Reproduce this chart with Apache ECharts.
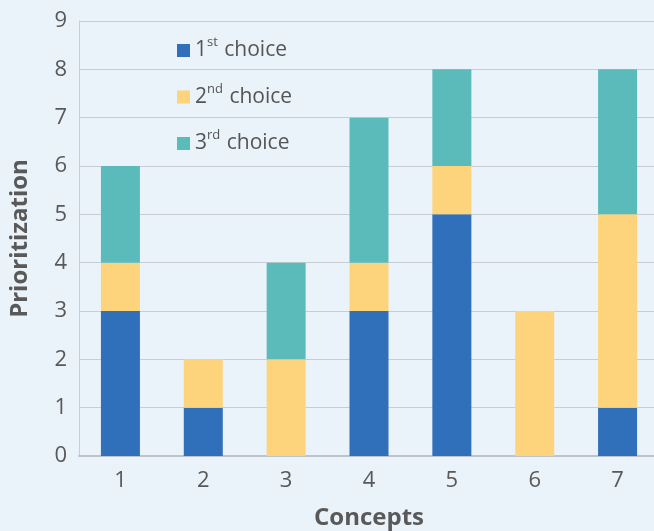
<!DOCTYPE html>
<html>
<head>
<meta charset="utf-8">
<script src="https://cdn.jsdelivr.net/npm/echarts@6/dist/echarts.min.js"></script>
<style>
  html, body { margin: 0; padding: 0; background: #eaf2fa; }
  #chart { width: 654px; height: 531px; }
</style>
</head>
<body>
<div id="chart"></div>
<script>
// Concepts on the x axis and the votes each one received per choice rank
const concepts = ['1', '2', '3', '4', '5', '6', '7'];
const firstChoice  = [3, 1, 0, 3, 5, 0, 1];
const secondChoice = [1, 1, 2, 1, 1, 3, 4];
const thirdChoice  = [2, 0, 2, 3, 2, 0, 3];
const yTicks = [0, 1, 2, 3, 4, 5, 6, 7, 8, 9];

const seriesNames = ['1st choice', '2nd choice', '3rd choice'];
const ordinal = { '1st choice': ['1', 'st'], '2nd choice': ['2', 'nd'], '3rd choice': ['3', 'rd'] };
const colors = ['#306fb9', '#fdd47b', '#5bbbbb'];

const chart = echarts.init(document.getElementById('chart'));
const font = '"Open Sans", "Noto Sans", sans-serif';

function bar(name, data, color) {
  return {
    name: name,
    type: 'bar',
    stack: 'votes',
    data: data,
    barWidth: 39,
    itemStyle: { color: color },
    emphasis: { disabled: true }
  };
}

chart.setOption({
  backgroundColor: '#eaf2fa',
  animation: false,
  textStyle: { fontFamily: font },
  color: colors,
  grid: { left: 79, top: 21, width: 580, height: 435, containLabel: false, outerBoundsMode: 'none' },
  legend: {
    orient: 'vertical',
    left: 172,
    top: 31,
    itemWidth: 13,
    itemHeight: 13,
    itemGap: 21.5,
    icon: 'rect',
    data: seriesNames,
    formatter: function (n) {
      const p = ordinal[n];
      return '{a|' + p[0] + '}{s|' + p[1] + '}{a| choice}';
    },
    textStyle: {
      color: '#555555',
      fontFamily: font,
      rich: {
        a: { fontSize: 21, color: '#555555', fontFamily: font, lineHeight: 29 },
        s: { fontSize: 13, color: '#555555', fontFamily: font, verticalAlign: 'top', lineHeight: 29, padding: [0, 1, 5, 0] }
      }
    }
  },
  xAxis: {
    type: 'category',
    data: concepts,
    name: 'Concepts',
    nameLocation: 'middle',
    nameGap: 50,
    nameTextStyle: { fontSize: 24, fontWeight: 'bold', color: '#595959', fontFamily: font },
    axisLine: { lineStyle: { color: '#bfc4cc', width: 2 } },
    axisTick: { show: false },
    axisLabel: { fontSize: 22, color: '#595959', margin: 14, fontFamily: font }
  },
  yAxis: {
    type: 'value',
    min: yTicks[0],
    max: yTicks[yTicks.length - 1],
    interval: 1,
    name: 'Prioritization',
    nameLocation: 'middle',
    nameGap: 47,
    nameTextStyle: { fontSize: 24, fontWeight: 'bold', color: '#595959', fontFamily: font },
    axisLine: { show: true, lineStyle: { color: '#c8cdd4', width: 1 } },
    axisTick: { show: false },
    axisLabel: { fontSize: 22, color: '#595959', margin: 12, fontFamily: font },
    splitLine: { lineStyle: { color: '#c8cdd4', width: 1 } }
  },
  series: [
    bar(seriesNames[0], firstChoice, colors[0]),
    bar(seriesNames[1], secondChoice, colors[1]),
    bar(seriesNames[2], thirdChoice, colors[2])
  ]
});
</script>
</body>
</html>
